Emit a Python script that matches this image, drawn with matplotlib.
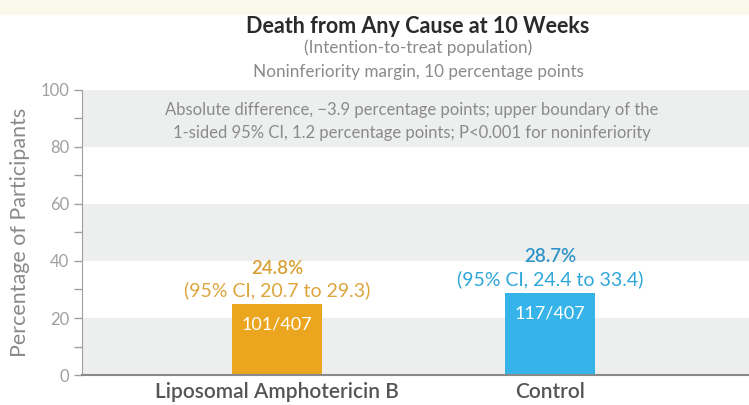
import matplotlib.pyplot as plt

groups = ["Liposomal Amphotericin B", "Control"]
pct = [24.8, 28.7]
ci_text = ["(95% CI, 20.7 to 29.3)", "(95% CI, 24.4 to 33.4)"]
counts = ["101/407", "117/407"]
bar_colors = ["#EBA51E", "#36B3E8"]
text_colors = ["#DDA53C", "#2FA6DA"]
pct_colors = ["#D9A236", "#2E94C8"]

plt.rcParams['font.family'] = ['Lato', 'DejaVu Sans']

fig = plt.figure(figsize=(7.49, 4.05), dpi=100)
ax = fig.add_axes([0.1095, 0.074, 0.8905, 0.704])

# faint yellowish strip at the very top of the image
fig.patches.append(plt.Rectangle((0, 0.965), 1, 0.035, transform=fig.transFigure,
                                 color="#FBF9EC", zorder=0))

# alternating bands
for lo in [0, 40, 80]:
    ax.axhspan(lo, lo + 20, color="#EDEFEF", zorder=0, lw=0)

x = [0, 1]
ax.bar(x, pct, width=0.33, color=bar_colors, zorder=2)

for i in range(2):
    ax.text(x[i], pct[i] - 7, counts[i], ha="center", va="center",
            color="white", fontsize=13, zorder=3)
    ax.text(x[i], pct[i] + 4.8, ci_text[i], ha="center", va="center",
            color=text_colors[i], fontsize=14, zorder=3)
    ax.text(x[i], pct[i] + 12.7, f"{pct[i]}%", ha="center", va="center",
            color=pct_colors[i], fontsize=13.5, fontweight=600, zorder=3)

ax.text(0.495, 93, "Absolute difference, \u22123.9 percentage points; upper boundary of the",
        ha="center", va="center", color="#8A8A8A", fontsize=12)
ax.text(0.495, 85, "1-sided 95% CI, 1.2 percentage points; P<0.001 for noninferiority",
        ha="center", va="center", color="#8A8A8A", fontsize=12)

ax.set_xlim(-0.714, 1.729)
ax.set_ylim(0, 100)
ax.set_yticks([0, 20, 40, 60, 80, 100])
ax.set_yticks([10, 30, 50, 70, 90], minor=True)
ax.tick_params(axis="y", colors="#A0A0A0", labelcolor="#A0A0A0", labelsize=12,
               length=6, width=1, direction="out", pad=3)
ax.tick_params(axis="y", which="minor", colors="#A0A0A0", length=6, width=1)
ax.set_xticks(x)
ax.set_xticklabels(groups, fontsize=15, color="#555555", fontweight=600)
ax.tick_params(axis="x", length=0, pad=5)
for s in ["top", "right"]:
    ax.spines[s].set_visible(False)
ax.spines["left"].set_color("#A0A0A0")
ax.spines["bottom"].set_color("#8A8A8A")
ax.spines["bottom"].set_linewidth(1.5)
ax.set_ylabel("Percentage of Participants", fontsize=15.5, color="#8A8A8A", labelpad=8)

fig.text(0.558, 0.935, "Death from Any Cause at 10 Weeks", ha="center", va="center",
         fontsize=15.5, fontweight="bold", color="#2A2A2A")
fig.text(0.558, 0.881, "(Intention-to-treat population)", ha="center", va="center",
         fontsize=12.3, color="#8A8A8A")
fig.text(0.558, 0.823, "Noninferiority margin, 10 percentage points", ha="center", va="center",
         fontsize=12.3, color="#8A8A8A")

fig.savefig("out.png", dpi=100)
